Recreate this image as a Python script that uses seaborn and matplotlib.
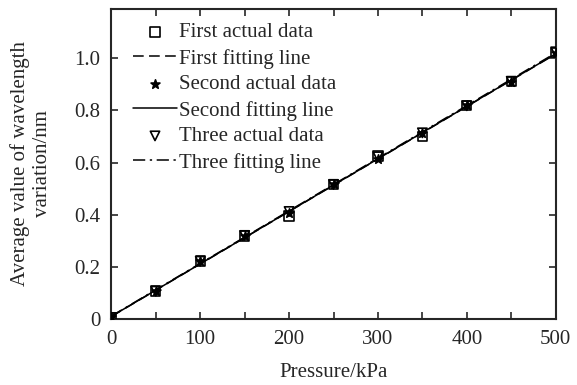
import numpy as np
import pandas as pd
import seaborn as sns
import matplotlib.pyplot as plt

pressure = [0, 50, 100, 150, 200, 250, 300, 350, 400, 450, 500]
first = [0.005, 0.107, 0.222, 0.318, 0.395, 0.515, 0.625, 0.700, 0.820, 0.910, 1.022]
second = [0.005, 0.105, 0.220, 0.318, 0.405, 0.517, 0.615, 0.712, 0.822, 0.908, 1.020]
three = [0.005, 0.106, 0.221, 0.320, 0.412, 0.516, 0.622, 0.714, 0.818, 0.912, 1.025]

sns.set_style("ticks")
plt.rcParams['font.family'] = ['Liberation Serif', 'DejaVu Serif']

df = pd.DataFrame({"Pressure": pressure, "First": first, "Second": second, "Three": three})

fig, ax = plt.subplots(figsize=(5.77, 3.85), dpi=100)
fig.subplots_adjust(left=0.193, right=0.963, top=0.977, bottom=0.172)

series = [("First", "s", "none", (0, (7, 3.5))),
          ("Second", "*", "black", "-"),
          ("Three", "v", "none", (0, (8, 3, 1.5, 3)))]
for name, marker, face, ls in series:
    sns.scatterplot(data=df, x="Pressure", y=name, ax=ax, marker=marker, s=45,
                    facecolor=face, edgecolor="black", linewidth=1.2,
                    label=f"{name} actual data", zorder=3)
    k, b = np.polyfit(df["Pressure"], df[name], 1)
    fit = pd.DataFrame({"x": [0, 500]})
    fit["y"] = k * fit["x"] + b
    sns.lineplot(data=fit, x="x", y="y", ax=ax, color="black", linestyle=ls,
                 linewidth=1.1, label=f"{name} fitting line")

ax.set_xlim(0, 500)
ax.set_ylim(0, 1.19)
ax.set_xticks(np.arange(0, 501, 100))
ax.set_xticks(np.arange(0, 501, 50), minor=True)
ax.set_yticks([0, 0.2, 0.4, 0.6, 0.8, 1.0])
ax.set_yticklabels(["0", "0.2", "0.4", "0.6", "0.8", "1.0"])
ax.tick_params(which="both", direction="in", top=True, right=True, labelsize=15,
               length=5, width=1.2, pad=8)
ax.tick_params(which="minor", length=5)
for sp in ax.spines.values():
    sp.set_linewidth(1.5)

ax.set_xlabel("Pressure/kPa", fontsize=15, labelpad=10)
ax.set_ylabel("Average value of wavelength\nvariation/nm", fontsize=15, labelpad=16)

ax.legend(loc="upper left", frameon=False, fontsize=15, handlelength=2.1,
          handletextpad=0.1, labelspacing=0.3, borderaxespad=0, borderpad=0,
          bbox_to_anchor=(0.049, 0.955))

fig.savefig("out.png", dpi=100)
